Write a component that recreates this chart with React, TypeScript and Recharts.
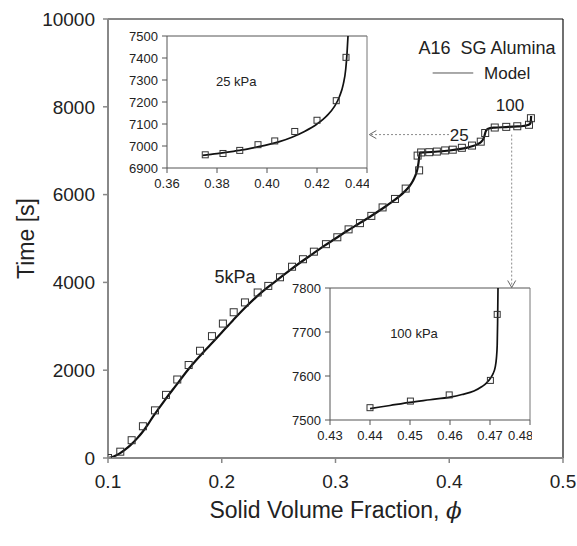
import React from 'react';
import {
  ComposedChart,
  Line,
  Scatter,
  XAxis,
  YAxis,
  ReferenceLine,
  ReferenceDot,
} from 'recharts';

const FONT = '"Liberation Sans", Arial, Helvetica, sans-serif';

// ---- Main chart: experimental points (open squares) ----
// 5 kPa step
const phi5kPa = [
  0.1, 0.1108, 0.1208, 0.1307, 0.1413, 0.151, 0.1609, 0.1709, 0.1809, 0.1914,
  0.201, 0.2105, 0.2204, 0.2316, 0.2409, 0.2512, 0.2618, 0.2714, 0.281, 0.2916,
  0.3016, 0.3115, 0.3215, 0.3315, 0.3414, 0.3523, 0.3617, 0.3735, 0.3722,
];
const time5kPa = [
  0, 144, 405, 723, 1085, 1438, 1788, 2118, 2443, 2775,
  3062, 3320, 3544, 3770, 3920, 4117, 4357, 4528, 4700, 4871,
  5028, 5208, 5350, 5515, 5708, 5901, 6137, 6552, 6888,
];
// 25 kPa step
const phi25kPa = [0.3753, 0.3824, 0.3891, 0.3964, 0.4031, 0.4111, 0.42, 0.4277, 0.4316];
const time25kPa = [6960, 6966, 6980, 7006, 7023, 7066, 7117, 7206, 7403];
// 100 kPa step
const phi100kPa = [0.44, 0.4501, 0.4598, 0.4701, 0.4718];
const time100kPa = [7528, 7543, 7557, 7590, 7740];

// ---- Model curve over the whole loading history ----
const phiModel = [
  0.1, 0.105, 0.11, 0.115, 0.12, 0.125, 0.13, 0.135, 0.14, 0.145,
  0.15, 0.16, 0.17, 0.18, 0.19, 0.2, 0.21, 0.22, 0.23, 0.24,
  0.25, 0.26, 0.27, 0.28, 0.29, 0.3, 0.31, 0.32, 0.33, 0.34,
  0.35, 0.36, 0.365, 0.368, 0.37, 0.372, 0.373, 0.3742, 0.38, 0.39,
  0.4, 0.41, 0.415, 0.42, 0.425, 0.428, 0.43, 0.431, 0.4318, 0.433,
  0.436, 0.44, 0.45, 0.46, 0.465, 0.469, 0.4708, 0.4715, 0.4718, 0.472,
];
const timeModel = [
  0, 35, 100, 190, 300, 430, 580, 760, 960, 1140,
  1320, 1660, 2000, 2300, 2580, 2860, 3140, 3410, 3660, 3880,
  4080, 4280, 4470, 4650, 4830, 5000, 5170, 5330, 5490, 5660,
  5840, 6050, 6190, 6310, 6420, 6580, 6730, 6958, 6965, 6982,
  7005, 7040, 7065, 7100, 7150, 7200, 7270, 7340, 7420, 7480,
  7515, 7527, 7538, 7552, 7563, 7584, 7606, 7640, 7700, 7790,
];

// ---- Inset: 25 kPa step ----
const phiInset25Model = [
  0.3742, 0.38, 0.385, 0.39, 0.395, 0.4, 0.405, 0.41, 0.415, 0.42,
  0.424, 0.427, 0.429, 0.4305, 0.4315, 0.432, 0.4324,
];
const timeInset25Model = [
  6957, 6965, 6973, 6982, 6993, 7005, 7020, 7040, 7066, 7100,
  7138, 7180, 7225, 7280, 7350, 7420, 7500,
];

// ---- Inset: 100 kPa step ----
const phiInset100Model = [
  0.44, 0.445, 0.45, 0.455, 0.46, 0.463, 0.466, 0.468, 0.4691, 0.4702,
  0.4708, 0.4713, 0.4716, 0.4718, 0.4719, 0.472,
];
const timeInset100Model = [
  7526, 7533, 7540, 7546, 7552, 7558, 7566, 7576, 7584, 7596,
  7606, 7620, 7640, 7670, 7720, 7800,
];

// ---- Axis ticks ----
const mainXTicks = [0.1, 0.2, 0.3, 0.4, 0.5];
const mainYTicks = [0, 2000, 4000, 6000, 8000, 10000];
const inset25XTicks = [0.36, 0.38, 0.4, 0.42, 0.44];
const inset25YTicks = [6900, 7000, 7100, 7200, 7300, 7400, 7500];
const inset100XTicks = [0.43, 0.44, 0.45, 0.46, 0.47, 0.48];
const inset100YTicks = [7500, 7600, 7700, 7800];

type Pt = { phi: number; t: number };
const zip = (xs: number[], ys: number[]): Pt[] => xs.map((x, i) => ({ phi: x, t: ys[i] }));

const expPoints = [
  ...zip(phi5kPa, time5kPa),
  ...zip(phi25kPa, time25kPa),
  ...zip(phi100kPa, time100kPa),
];
const modelMain = zip(phiModel, timeModel);
const exp25 = zip(phi25kPa, time25kPa);
const model25 = zip(phiInset25Model, timeInset25Model);
const exp100 = zip(phi100kPa, time100kPa);
const model100 = zip(phiInset100Model, timeInset100Model);

const makeSquare = (size: number) => (props: any) => {
  const { cx, cy } = props;
  if (cx == null || cy == null) return <g />;
  return (
    <rect
      x={cx - size / 2}
      y={cy - size / 2}
      width={size}
      height={size}
      fill="none"
      stroke="#333"
      strokeWidth={1}
    />
  );
};

const DashedArrow = (props: any) => {
  const { x1, y1, x2, y2 } = props;
  const ang = Math.atan2(y2 - y1, x2 - x1);
  const L = 7;
  const W = 4;
  const bx = x2 - L * Math.cos(ang);
  const by = y2 - L * Math.sin(ang);
  const px = -Math.sin(ang) * W;
  const py = Math.cos(ang) * W;
  return (
    <g>
      <line x1={x1} y1={y1} x2={x2} y2={y2} stroke="#8a8a8a" strokeWidth={1} strokeDasharray="2 2" />
      <polyline
        points={`${bx + px},${by + py} ${x2},${y2} ${bx - px},${by - py}`}
        fill="none"
        stroke="#666"
        strokeWidth={1}
      />
    </g>
  );
};

const XTitle = (props: any) => {
  const vb = props.viewBox;
  return (
    <text
      x={vb.x + vb.width / 2}
      y={vb.y + 60}
      textAnchor="middle"
      fontFamily={FONT}
      fontSize={23}
      fill="#222"
    >
      Solid Volume Fraction,{' '}
      <tspan fontFamily='"DejaVu Serif", serif' fontStyle="italic">
        ϕ
      </tspan>
    </text>
  );
};

const YTitle = (props: any) => {
  const vb = props.viewBox;
  const x = vb.x + 26;
  const y = vb.y + vb.height / 2;
  return (
    <text
      x={x}
      y={y}
      transform={`rotate(-90, ${x}, ${y})`}
      textAnchor="middle"
      dominantBaseline="central"
      fontFamily={FONT}
      fontSize={23}
      fill="#222"
    >
      Time [s]
    </text>
  );
};

const textLabel = (value: string, size: number, position: any = 'center') => ({
  value,
  position,
  fontSize: size,
  fontFamily: FONT,
  fill: '#222',
});

type InsetProps = {
  left: number;
  top: number;
  model: Pt[];
  exp: Pt[];
  xDomain: [number, number];
  xTicks: number[];
  yDomain: [number, number];
  yTicks: number[];
  title: string;
  titleAt: Pt;
};

const Inset = ({ left, top, model, exp, xDomain, xTicks, yDomain, yTicks, title, titleAt }: InsetProps) => {
  const axisColor = '#555';
  const tickStyle = { fill: '#222', fontSize: 13, fontFamily: FONT };
  return (
    <div style={{ position: 'absolute', left, top }}>
      <ComposedChart width={252} height={165} margin={{ top: 8, right: 2, bottom: 0, left: 0 }}>
        <XAxis
          type="number"
          dataKey="phi"
          domain={xDomain}
          ticks={xTicks}
          allowDataOverflow
          tickFormatter={(v: number) => v.toFixed(2)}
          height={25}
          stroke={axisColor}
          tick={tickStyle}
          tickSize={5}
          tickMargin={6}
        />
        <YAxis
          type="number"
          dataKey="t"
          domain={yDomain}
          ticks={yTicks}
          allowDataOverflow
          width={50}
          stroke={axisColor}
          tick={tickStyle}
          tickSize={5}
          tickMargin={4}
        />
        <ReferenceLine y={yDomain[1]} stroke={axisColor} strokeWidth={1} />
        <ReferenceLine x={xDomain[1]} stroke="#777" strokeWidth={1} />
        <ReferenceDot
          x={titleAt.phi}
          y={titleAt.t}
          r={0}
          stroke="none"
          fill="none"
          label={textLabel(title, 13)}
        />
        <Line
          data={model}
          dataKey="t"
          type="monotone"
          stroke="#111"
          strokeWidth={1.7}
          dot={false}
          activeDot={false}
          isAnimationActive={false}
        />
        <Scatter data={exp} dataKey="t" shape={makeSquare(6)} isAnimationActive={false} />
      </ComposedChart>
    </div>
  );
};

export default function App() {
  const axisGray = '#888';
  const tickStyle = { fill: '#222', fontSize: 19, fontFamily: FONT };
  return (
    <div
      style={{
        position: 'absolute',
        left: 0,
        top: 0,
        width: 577,
        height: 546,
        background: '#fff',
        overflow: 'hidden',
      }}
    >
      <ComposedChart width={577} height={546} margin={{ top: 19, right: 14, bottom: 0, left: 0 }}>
        <XAxis
          type="number"
          dataKey="phi"
          domain={[0.1, 0.5]}
          ticks={mainXTicks}
          allowDataOverflow
          tickFormatter={(v: number) => v.toFixed(1)}
          height={88}
          stroke={axisGray}
          strokeWidth={2}
          tick={tickStyle}
          tickLine={{ stroke: axisGray, strokeWidth: 1.5 }}
          tickSize={5}
          tickMargin={12}
          label={XTitle}
        />
        <YAxis
          type="number"
          dataKey="t"
          domain={[0, 10000]}
          ticks={mainYTicks}
          allowDataOverflow
          width={108}
          stroke={axisGray}
          strokeWidth={2}
          tick={tickStyle}
          tickLine={{ stroke: axisGray, strokeWidth: 1.5 }}
          tickSize={5}
          tickMargin={8}
          label={YTitle}
        />
        <ReferenceLine y={10000} stroke="#111" strokeWidth={1} />
        <ReferenceLine x={0.5} stroke="#111" strokeWidth={1.2} />

        {/* annotations */}
        <ReferenceDot x={0.2116} y={4142} r={0} stroke="none" fill="none" label={textLabel('5kPa', 18)} />
        <ReferenceDot x={0.4088} y={7354} r={0} stroke="none" fill="none" label={textLabel('25', 17)} />
        <ReferenceDot x={0.4534} y={8032} r={0} stroke="none" fill="none" label={textLabel('100', 17)} />
        <ReferenceDot
          x={0.4332}
          y={9356}
          r={0}
          stroke="none"
          fill="none"
          label={textLabel('A16\u00a0\u00a0SG Alumina', 18)}
        />
        <ReferenceLine
          segment={[
            { x: 0.3854, y: 8770 },
            { x: 0.4211, y: 8770 },
          ]}
          stroke="#555"
          strokeWidth={1}
        />
        <ReferenceDot
          x={0.4262}
          y={8770}
          r={0}
          stroke="none"
          fill="none"
          label={textLabel('Model', 17, 'right')}
        />

        {/* pointers to the insets */}
        <ReferenceLine
          segment={[
            { x: 0.3998, y: 7367 },
            { x: 0.3297, y: 7367 },
          ]}
          shape={DashedArrow}
        />
        <ReferenceLine
          segment={[
            { x: 0.4549, y: 7367 },
            { x: 0.4549, y: 3884 },
          ]}
          shape={DashedArrow}
        />

        <Line
          data={modelMain}
          dataKey="t"
          type="monotone"
          stroke="#111"
          strokeWidth={2.2}
          dot={false}
          activeDot={false}
          isAnimationActive={false}
        />
        <Scatter data={expPoints} dataKey="t" shape={makeSquare(7)} isAnimationActive={false} />
      </ComposedChart>

      <Inset
        left={117}
        top={28}
        model={model25}
        exp={exp25}
        xDomain={[0.36, 0.44]}
        xTicks={inset25XTicks}
        yDomain={[6900, 7500]}
        yTicks={inset25YTicks}
        title="25 kPa"
        titleAt={{ phi: 0.3877, t: 7294 }}
      />
      <Inset
        left={280}
        top={280}
        model={model100}
        exp={exp100}
        xDomain={[0.43, 0.48]}
        xTicks={inset100XTicks}
        yDomain={[7500, 7800]}
        yTicks={inset100YTicks}
        title="100 kPa"
        titleAt={{ phi: 0.451, t: 7697 }}
      />
    </div>
  );
}
